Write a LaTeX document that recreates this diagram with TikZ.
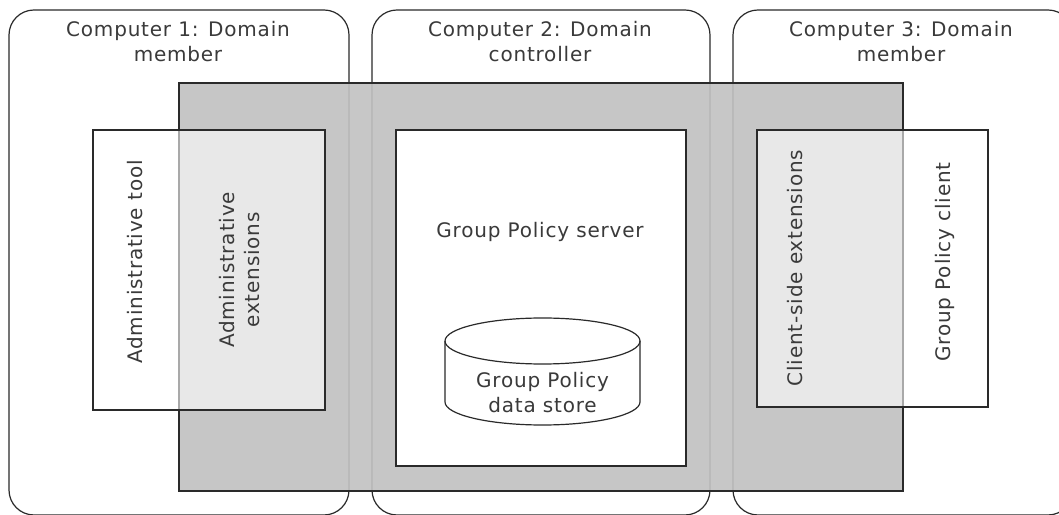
\documentclass[tikz,border=0pt]{standalone}
\usepackage{fontspec}
\setmainfont[LetterSpace=4]{DejaVu Sans}
\usepackage{xcolor}
\usepackage{tikz}
\definecolor{sharegray}{HTML}{C1C1C1}
\definecolor{labelgray}{HTML}{3A3A3A}
\definecolor{edgegray}{HTML}{2A2A2A}
\tikzstyle{compbox} = [draw=edgegray, fill=white, line width=1.2pt,
rectangle, rounded corners=25pt, minimum height=505pt, inner sep=0pt, outer sep=0pt]
\tikzstyle{sharedarea} = [draw=edgegray, fill=sharegray, fill opacity=0.91, line width=1.4pt,
rectangle, minimum width=724pt, minimum height=408pt, inner sep=0pt, outer sep=0pt]
\tikzstyle{halfbox} = [draw=edgegray, fill=white, fill opacity=0.6, line width=1.4pt,
rectangle, inner sep=0pt, outer sep=0pt]
\tikzstyle{serverbox} = [draw=edgegray, fill=white, line width=1.4pt,
rectangle, minimum width=290pt, minimum height=336pt, inner sep=0pt, outer sep=0pt]
\tikzstyle{caption} = [text=labelgray, font=\fontsize{20}{25}\selectfont, align=center]

\begin{document}
\begin{tikzpicture}[x=1pt, y=1pt]
        \useasboundingbox (0,0) rectangle (1059,514);
        \clip (0,0) rectangle (1059,514);
        % computers
        \node [compbox, minimum width=340pt] (comp1) at (179,251.5) {};
        \node [compbox, minimum width=338pt] (comp2) at (541,251.5) {};
        \node [compbox, minimum width=340pt] (comp3) at (903,251.5) {};
        \node [caption] (comp1title) at (178,472) {Computer 1: Domain\\member};
        \node [caption] (comp2title) at (540,472) {Computer 2: Domain\\controller};
        \node [caption] (comp3title) at (901,472) {Computer 3: Domain\\member};
        % shared area
        \node [sharedarea] (shared) at (541,227) {};
        % member boxes
        \node [halfbox, minimum width=232pt, minimum height=280pt] (admintool) at (209,244) {};
        \node [halfbox, minimum width=231pt, minimum height=277pt] (gpclient) at (872.5,245.5) {};
        \node [caption, rotate=90] (admintooltext) at (135,252) {Administrative tool};
        \node [caption, rotate=90] (adminext) at (240,244) {Administrative\\extensions};
        \node [caption, rotate=90] (cseext) at (795,246) {Client-side extensions};
        \node [caption, rotate=90] (gpclienttext) at (945,252) {Group Policy client};
        % server
        \node [serverbox] (server) at (541,216) {};
        \node [caption] (servertext) at (540,282) {Group Policy server};
        \draw [edgegray, fill=white, line width=1.2pt] (445,173) -- (445,112)
            arc[start angle=180, end angle=360, x radius=97.5pt, y radius=23pt] -- (640,173)
            arc[start angle=0, end angle=180, x radius=97.5pt, y radius=23pt] -- cycle;
        \draw [edgegray, line width=1.2pt] (445,173)
            arc[start angle=180, end angle=360, x radius=97.5pt, y radius=23pt];
        \node [caption] (datastore) at (542.5,121) {Group Policy\\data store};
    \end{tikzpicture}
\end{document}
